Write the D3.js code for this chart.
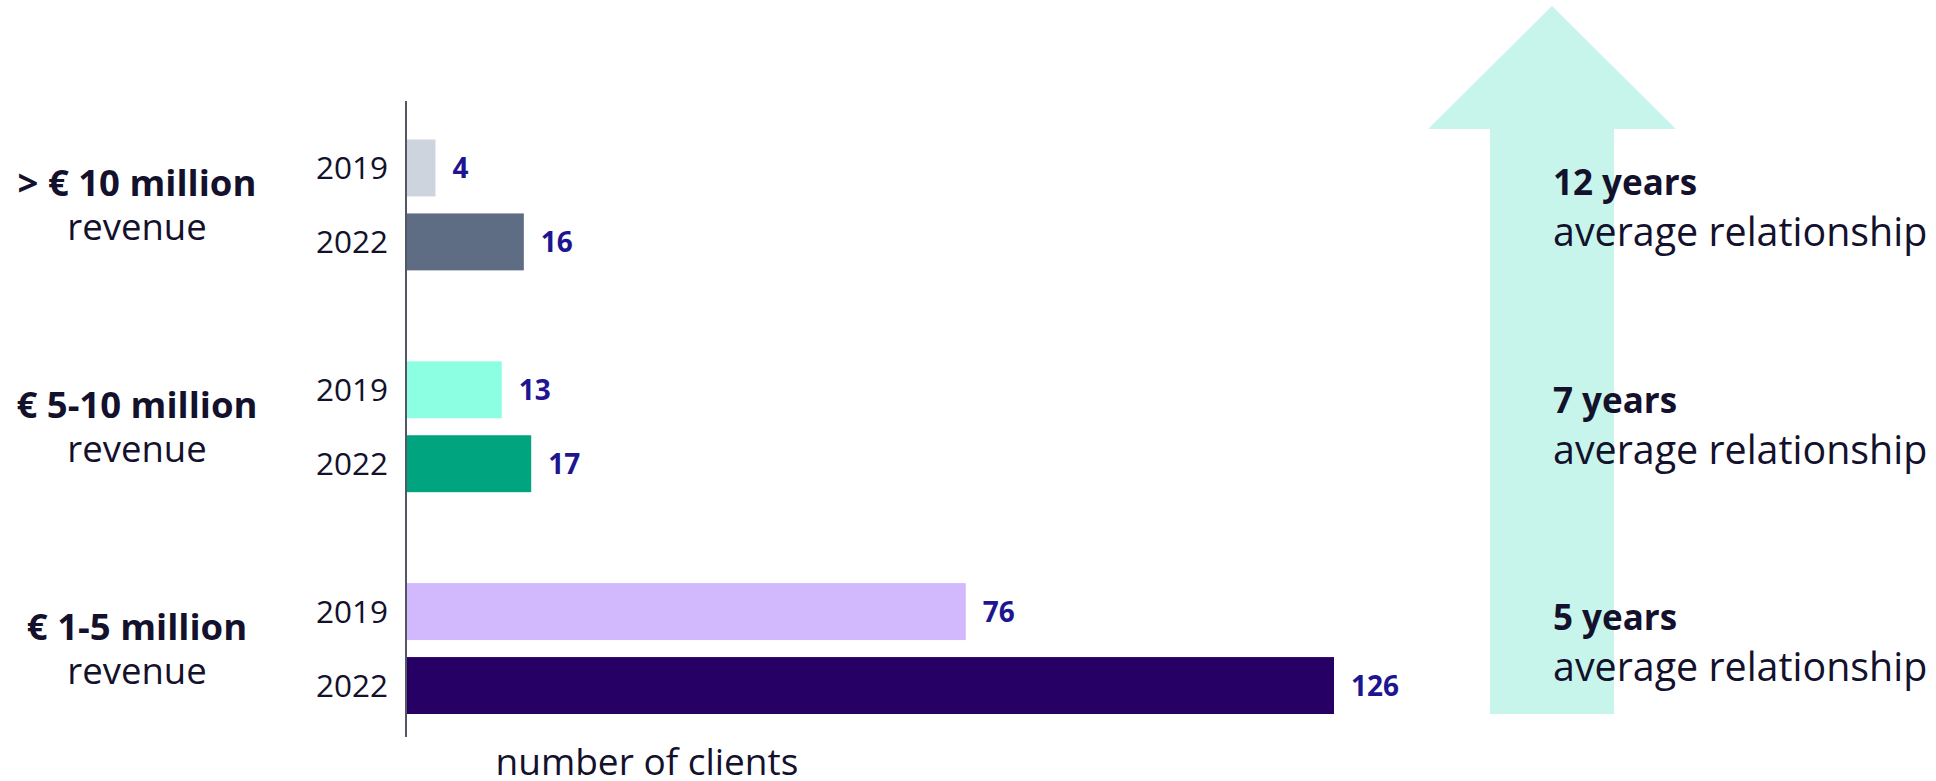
<!DOCTYPE html>
<html>
<head>
<meta charset="utf-8">
<script src="https://cdn.jsdelivr.net/npm/d3@7"></script>
<style>
  body { margin: 0; background: #fff; }
  text { font-family: "Open Sans", sans-serif; fill: #13112c; }
</style>
</head>
<body>
<script>
// client groups by revenue, counts for 2019 and 2022

var groups = ["> € 10 million", "€ 5-10 million", "€ 1-5 million"];
var years = ["2019", "2022"];
var clients2019 = [4, 13, 76];
var clients2022 = [16, 17, 126];
var relationship = ["12 years", "7 years", "5 years"];
var colors2019 = ["#cdd4dd", "#8cffe2", "#d2b8fc"];
var colors2022 = ["#5e6c84", "#00a47e", "#270066"];

var data = [];
groups.forEach(function(g, i) {
  data.push({group: g, year: "2019", value: clients2019[i], color: colors2019[i]});
  data.push({group: g, year: "2022", value: clients2022[i], color: colors2022[i]});
});

var width = 1936;
var height = 781;

var svg = d3.select("body")
  .append("svg")
  .attr("width", width)
  .attr("height", height);

var x = d3.scaleLinear()
  .domain([0, d3.max(data, function(d) { return d.value; })])
  .range([406, 1334]);

var y0 = d3.scaleBand()
  .domain(groups)
  .range([139.5, 714])
  .paddingInner(0.41);

var y1 = d3.scaleBand()
  .domain(years)
  .range([0, y0.bandwidth()])
  .paddingInner(0.23);

// right hand notes are spaced a bit tighter than the bar groups
var yNote = d3.scalePoint()
  .domain(groups)
  .range([195, 630]);

function center(g) { return y0(g) + y0.bandwidth() / 2; }

// arrow in the back
var ax = 1552, shaft = 62, wing = 124;
svg.append("path")
  .attr("fill", "#c8f5eb")
  .attr("d", d3.line()([
    [ax - shaft, y0.range()[1]],
    [ax - shaft, 129],
    [ax - wing, 129],
    [ax, 6],
    [ax + wing, 129],
    [ax + shaft, 129],
    [ax + shaft, y0.range()[1]]
  ]) + "Z");

var g = svg.append("g");

g.selectAll("rect")
  .data(data)
  .enter()
  .append("rect")
  .attr("x", x(0))
  .attr("y", function(d) { return y0(d.group) + y1(d.year); })
  .attr("width", function(d) { return x(d.value) - x(0); })
  .attr("height", y1.bandwidth())
  .attr("fill", function(d) { return d.color; });

// axis line
svg.append("line")
  .attr("x1", x(0)).attr("x2", x(0))
  .attr("y1", 101).attr("y2", 737)
  .attr("stroke", "#555566")
  .attr("stroke-width", 2);

g.selectAll(".year")
  .data(data)
  .enter()
  .append("text")
  .attr("class", "year")
  .attr("x", x(0) - 18)
  .attr("y", function(d) { return y0(d.group) + y1(d.year) + y1.bandwidth() / 2 + 11; })
  .attr("text-anchor", "end")
  .style("font-size", "31.5px")
  .text(function(d) { return d.year; });

g.selectAll(".val")
  .data(data)
  .enter()
  .append("text")
  .attr("class", "val")
  .attr("x", function(d) { return x(d.value) + 17; })
  .attr("y", function(d) { return y0(d.group) + y1(d.year) + y1.bandwidth() / 2 + 10; })
  .style("font-size", "28px")
  .style("font-weight", 700)
  .style("fill", "#1e1591")
  .text(function(d) { return d.value; });

// group labels on the left
var left = svg.selectAll(".glabel")
  .data(groups)
  .enter()
  .append("g");

left.append("text")
  .attr("x", 137)
  .attr("y", function(d) { return center(d) - 9; })
  .attr("text-anchor", "middle")
  .style("font-size", "36.5px")
  .style("font-weight", 700)
  .text(function(d) { return d; });

left.append("text")
  .attr("x", 137)
  .attr("y", function(d) { return center(d) + 35; })
  .attr("text-anchor", "middle")
  .style("font-size", "36.5px")
  .text("revenue");

// relationship notes on the right
var right = svg.selectAll(".rlabel")
  .data(groups)
  .enter()
  .append("g");

right.append("text")
  .attr("x", 1553)
  .attr("y", function(d) { return yNote(d); })
  .style("font-size", "35px")
  .style("font-weight", 700)
  .text(function(d, i) { return relationship[i]; });

right.append("text")
  .attr("x", 1553)
  .attr("y", function(d) { return yNote(d) + 51; })
  .style("font-size", "39.4px")
  .text("average relationship");

svg.append("text")
  .attr("x", 647)
  .attr("y", 775)
  .attr("text-anchor", "middle")
  .style("font-size", "37px")
  .text("number of clients");
</script>
</body>
</html>
